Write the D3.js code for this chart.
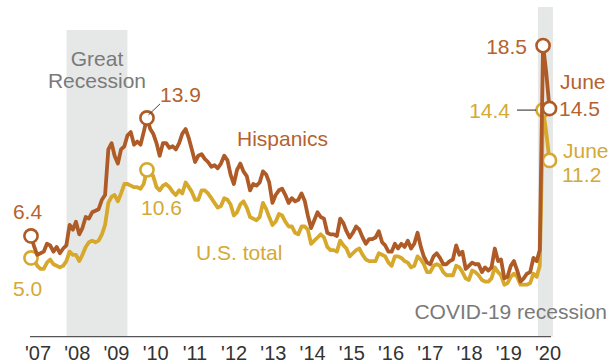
<!DOCTYPE html>
<html>
<head>
<meta charset="utf-8">
<script src="https://cdn.jsdelivr.net/npm/d3@7"></script>
<style>
  html, body { margin: 0; padding: 0; background: #fff; }
  svg { display: block; font-family: "Liberation Sans", Arial, sans-serif; }
</style>
</head>
<body>
<svg id="chart" width="615" height="364"></svg>
<script>
// Monthly unemployment rate (%), not seasonally adjusted, Jan 2007 - Jun 2020
const startMonth = new Date(2007, 0, 1);
const endMonth = new Date(2020, 5, 1);

const hispanicRate = [
  6.4, 5.7, 5.2, 5.3, 5.4, 5.9, 5.8, 5.4, 5.7, 5.3, 5.6, 5.8,   // 2007
  7.1, 6.8, 7.3, 6.5, 6.9, 7.6, 7.5, 7.9, 8.0, 8.1, 8.7, 9.0,   // 2008
  11.9, 12.3, 11.5, 11.0, 11.9, 12.1, 12.8, 13.0, 12.2, 12.4, 12.2, 13.0, // 2009
  13.9, 13.2, 12.9, 12.3, 11.5, 12.3, 12.3, 12.0, 12.1, 11.9, 12.3, 12.9, // 2010
  13.2, 12.6, 11.9, 11.1, 11.5, 11.6, 11.3, 11.1, 10.8, 10.9, 10.7, 11.0, // 2011
  11.5, 11.2, 10.3, 9.7, 10.6, 11.0, 10.5, 10.2, 9.3, 9.7, 9.6, 9.8,      // 2012
  10.5, 10.3, 9.8, 8.5, 9.0, 9.3, 9.4, 9.0, 8.5, 8.8, 8.6, 8.7,           // 2013
  9.1, 8.6, 7.7, 6.9, 7.4, 7.9, 7.6, 7.5, 6.6, 6.5, 6.5, 6.4,             // 2014
  7.5, 7.2, 6.7, 6.3, 6.6, 7.0, 6.8, 6.3, 5.9, 6.2, 6.2, 6.3,             // 2015
  6.7, 6.0, 5.8, 5.4, 5.4, 5.9, 5.6, 5.9, 5.7, 6.1, 5.6, 5.9,             // 2016
  6.6, 5.7, 5.1, 4.7, 4.6, 5.1, 5.3, 5.0, 4.6, 4.6, 4.8, 4.9,             // 2017
  5.8, 5.2, 5.4, 4.3, 4.5, 4.7, 4.6, 4.6, 4.1, 4.4, 4.2, 4.4,             // 2018
  5.6, 4.8, 4.9, 3.7, 3.8, 4.5, 4.8, 4.2, 3.5, 3.7, 4.0, 4.1,             // 2019
  5.0, 4.8, 5.5, 18.5, 16.8, 14.5                                         // 2020
];

const usTotalRate = [
  5.0, 4.9, 4.5, 4.3, 4.3, 4.7, 4.9, 4.6, 4.5, 4.4, 4.5, 4.8,   // 2007
  5.4, 5.2, 5.2, 4.8, 5.2, 5.7, 6.0, 6.1, 6.0, 6.1, 6.5, 7.1,   // 2008
  8.5, 8.9, 9.0, 8.6, 9.1, 9.7, 9.7, 9.6, 9.5, 9.5, 9.4, 9.7,   // 2009
  10.6, 10.4, 10.2, 9.5, 9.3, 9.6, 9.7, 9.5, 9.2, 9.0, 9.3, 9.1, // 2010
  9.8, 9.5, 9.2, 8.7, 8.7, 9.3, 9.3, 9.1, 8.8, 8.5, 8.2, 8.3,   // 2011
  8.8, 8.7, 8.4, 7.7, 7.9, 8.4, 8.6, 8.2, 7.6, 7.5, 7.4, 7.6,   // 2012
  8.5, 8.1, 7.6, 7.1, 7.3, 7.8, 7.7, 7.3, 7.0, 7.0, 6.6, 6.5,   // 2013
  7.0, 7.0, 6.8, 5.9, 6.1, 6.3, 6.5, 6.3, 5.7, 5.5, 5.5, 5.4,   // 2014
  6.1, 5.8, 5.6, 5.1, 5.3, 5.5, 5.6, 5.2, 4.9, 4.8, 4.8, 4.8,   // 2015
  5.3, 5.2, 5.1, 4.7, 4.5, 5.1, 5.1, 5.0, 4.8, 4.7, 4.4, 4.5,   // 2016
  5.1, 4.9, 4.6, 4.1, 4.1, 4.5, 4.6, 4.5, 4.1, 3.9, 3.9, 3.9,   // 2017
  4.5, 4.4, 4.1, 3.7, 3.6, 4.2, 4.1, 3.9, 3.6, 3.5, 3.5, 3.7,   // 2018
  4.4, 4.1, 3.9, 3.3, 3.4, 3.8, 4.0, 3.8, 3.3, 3.3, 3.3, 3.4,   // 2019
  4.0, 3.8, 4.5, 14.4, 13.0, 11.2                               // 2020
];

const yearLabels = ["'07", "'08", "'09", "'10", "'11", "'12", "'13", "'14",
                    "'15", "'16", "'17", "'18", "'19", "'20"];

// Recession periods shown as shaded bands
const recessions = [
  { name: ["Great", "Recession"], start: new Date(2007, 11, 3), end: new Date(2009, 5, 30) },
  { name: ["COVID-19 recession"], start: new Date(2020, 1, 12), end: new Date(2020, 6, 4) }
];

// Months with a circled, labelled value
const markedMonths = [new Date(2007, 0, 1), new Date(2010, 0, 1), new Date(2020, 3, 1), new Date(2020, 5, 1)];

const HISP = "#ae5b27";
const HISP_TEXT = "#b5622e";
const US = "#d6a82b";
const US_TEXT = "#d4a935";
const GRAY_TEXT = "#7a7a7a";

const months = d3.timeMonth.range(startMonth, d3.timeMonth.offset(endMonth, 1));
const hispanic = months.map((d, i) => ({ date: d, value: hispanicRate[i] }));
const usTotal = months.map((d, i) => ({ date: d, value: usTotalRate[i] }));

const svg = d3.select("#chart");

const x = d3.scaleTime().domain([startMonth, endMonth]).range([31, 549.5]);
const y = d3.scaleLinear().domain([0, 20]).range([336.6, 22]);

// Shaded recession bands
svg.append("rect")
  .attr("x", x(recessions[0].start)).attr("y", 30)
  .attr("width", x(recessions[0].end) - x(recessions[0].start))
  .attr("height", y(0) - 30)
  .attr("fill", "#e6e7e7");
svg.append("rect")
  .attr("x", x(recessions[1].start)).attr("y", 7)
  .attr("width", x(recessions[1].end) - x(recessions[1].start))
  .attr("height", y(0) - 7)
  .attr("fill", "#e6e7e7");

// Band captions
const grCenter = (x(recessions[0].start) + x(recessions[0].end)) / 2;
const grText = svg.append("text")
  .attr("text-anchor", "middle")
  .attr("font-size", 21)
  .attr("fill", GRAY_TEXT);
grText.append("tspan").attr("x", grCenter).attr("y", 66).text(recessions[0].name[0]);
grText.append("tspan").attr("x", grCenter).attr("y", 88).text(recessions[0].name[1]);

svg.append("text")
  .attr("x", 607).attr("y", 319)
  .attr("text-anchor", "end")
  .attr("font-size", 21)
  .attr("fill", GRAY_TEXT)
  .text(recessions[1].name[0]);

// Baseline
svg.append("line")
  .attr("x1", 30).attr("x2", 551)
  .attr("y1", y(0)).attr("y2", y(0))
  .attr("stroke", "#555").attr("stroke-width", 1.4);

// Year labels
const yearPos = d3.scalePoint().domain(yearLabels).range([37.5, 547.5]);
const axis = svg.append("g")
  .attr("transform", `translate(0, ${y(0)})`)
  .call(d3.axisBottom(yearPos).tickSize(0).tickPadding(0));
axis.select(".domain").remove();
axis.selectAll("text")
  .attr("dy", null)
  .attr("y", 23)
  .attr("font-family", "Liberation Sans, Arial, sans-serif")
  .attr("font-size", 20)
  .attr("fill", "#333");

const line = d3.line()
  .x(d => x(d.date))
  .y(d => y(d.value))
  .curve(d3.curveLinear);

function drawSeries(data, color) {
  svg.append("path")
    .datum(data)
    .attr("d", line)
    .attr("fill", "none")
    .attr("stroke", color)
    .attr("stroke-width", 3.8)
    .attr("stroke-linejoin", "round")
    .attr("stroke-linecap", "round");
  svg.selectAll(null)
    .data(data.filter(d => markedMonths.some(m => +m === +d.date)))
    .enter().append("circle")
    .attr("cx", d => x(d.date))
    .attr("cy", d => y(d.value))
    .attr("r", 6.6)
    .attr("fill", "#fff")
    .attr("stroke", color)
    .attr("stroke-width", 2.6);
}

drawSeries(usTotal, US);
drawSeries(hispanic, HISP);

// Value labels
function valueLabel(text, px, py, color, anchor) {
  svg.append("text")
    .attr("x", px).attr("y", py)
    .attr("text-anchor", anchor || "start")
    .attr("font-size", 21)
    .attr("fill", color)
    .text(text);
}

const h0 = hispanic[0], u0 = usTotal[0];
const hPeak = hispanic[36], uPeak = usTotal[36];
const hApr = hispanic[hispanic.length - 3], uApr = usTotal[usTotal.length - 3];
const hJun = hispanic[hispanic.length - 1], uJun = usTotal[usTotal.length - 1];

valueLabel(h0.value.toFixed(1), 27.5, 219, HISP_TEXT, "middle");
valueLabel(u0.value.toFixed(1), 27.5, 296, US_TEXT, "middle");

// 13.9 with leader line
svg.append("line")
  .attr("x1", x(hPeak.date) + 1.5).attr("y1", y(hPeak.value) - 3)
  .attr("x2", x(hPeak.date) + 13).attr("y2", y(hPeak.value) - 14)
  .attr("stroke", "#444").attr("stroke-width", 1);
valueLabel(hPeak.value.toFixed(1), x(hPeak.date) + 13, 102, HISP_TEXT);
valueLabel(uPeak.value.toFixed(1), x(uPeak.date) - 6, 215, US_TEXT);

// Series names
valueLabel("Hispanics", 237, 146, HISP_TEXT);
valueLabel("U.S. total", 196, 260, US_TEXT);

// Pandemic peak and June values
valueLabel(hApr.value.toFixed(1), x(hApr.date) - 16, y(hApr.value) + 8, HISP_TEXT, "end");
svg.append("line")
  .attr("x1", 517).attr("x2", x(uApr.date) - 7)
  .attr("y1", y(uApr.value)).attr("y2", y(uApr.value))
  .attr("stroke", "#222").attr("stroke-width", 1);
valueLabel(uApr.value.toFixed(1), 510, y(uApr.value) + 8, US_TEXT, "end");

valueLabel("June", 560, 89, HISP_TEXT);
valueLabel(hJun.value.toFixed(1), 559, y(hJun.value) + 7, HISP_TEXT);
valueLabel("June", 563, 158, US_TEXT);
valueLabel(uJun.value.toFixed(1), 562, 182, US_TEXT);
</script>
</body>
</html>
